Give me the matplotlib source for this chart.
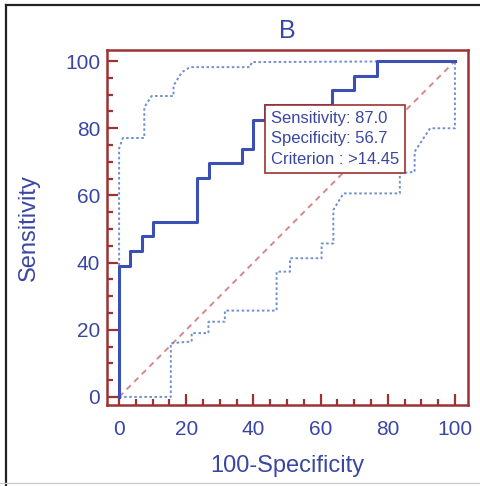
import matplotlib
matplotlib.use("Agg")
import matplotlib.pyplot as plt
from matplotlib.lines import Line2D
from matplotlib.ticker import MultipleLocator

plt.rcParams['font.family'] = ['Liberation Sans', 'DejaVu Sans']

# ROC curve (100-Specificity, Sensitivity), step corners
roc_fpr = [0, 0, 3.33, 6.67, 10, 23.3, 26.7, 36.7, 40, 43.3, 63.3, 70, 76.7, 100]
roc_tpr = [0, 39.1, 43.5, 47.8, 52.2, 65.2, 69.6, 73.9, 82.6, 87.0, 91.3, 95.7, 100, 100]

# confidence bounds (dotted)
upper_x = [0, 0, 1.1, 7.5, 7.5, 9.7, 16.2, 16.2, 18.7, 21.1, 39, 39.5, 100]
upper_y = [0, 74, 77.1, 77.1, 86.3, 89.6, 89.6, 92.7, 96.7, 98.2, 98.2, 99.7, 100]
lower_x = [0, 15.4, 15.4, 21.6, 21.6, 26.6, 26.6, 31.5, 31.5, 46.9, 46.9, 50.9, 50.9,
           60.3, 60.3, 63.8, 63.8, 66.8, 83.6, 83.6, 88, 88, 92.6, 100, 100]
lower_y = [0, 0, 16, 16.5, 19, 19, 22.4, 22.4, 25.7, 25.7, 37.3, 37.3, 41.3,
           41.3, 45.7, 45.7, 55.7, 60.6, 60.6, 66.6, 67, 73, 80, 80, 100]

# criterion point
sens_cut = 87.0
spec_cut = 56.7
criterion = ">14.45"

blue = '#3a46a4'
red = '#9c3232'

fig = plt.figure(figsize=(4.81, 4.86), dpi=100)
ax = fig.add_axes([0.2225, 0.1667, 0.7498, 0.7304])

ax.plot([0, 100], [0, 100], color='#d48a8a', lw=1.4, linestyle=(0, (3, 2.5)))
ax.plot(upper_x, upper_y, color='#6f8fd0', lw=1.4, linestyle=(0, (1.3, 1.3)))
ax.plot(lower_x, lower_y, color='#6f8fd0', lw=1.4, linestyle=(0, (1.3, 1.3)))
ax.plot(roc_fpr, roc_tpr, color='#3b4fb4', lw=2.2, drawstyle='steps-post')

ax.annotate("Sensitivity: %.1f\nSpecificity: %.1f\nCriterion : %s" % (sens_cut, spec_cut, criterion),
            xy=(100 - spec_cut, sens_cut), xytext=(4.5, -4.5), textcoords='offset points',
            ha='left', va='top', fontsize=12, color=blue, linespacing=1.45,
            bbox=dict(boxstyle='square,pad=0.35', fc='white', ec=red, lw=1.2), zorder=5)

ax.set_xlim(-3.6, 103.8)
ax.set_ylim(-2.4, 103.3)
ax.xaxis.set_major_locator(MultipleLocator(20))
ax.xaxis.set_minor_locator(MultipleLocator(5))
ax.yaxis.set_major_locator(MultipleLocator(20))
ax.yaxis.set_minor_locator(MultipleLocator(5))
ax.tick_params(which='both', direction='in', color=red, width=1.6, top=False, right=False)
ax.tick_params(which='major', length=8, labelsize=15, labelcolor=blue)
ax.tick_params(axis='x', which='major', pad=11)
ax.tick_params(axis='y', which='major', pad=5)
ax.tick_params(which='minor', length=4)
for s in ax.spines.values():
    s.set_color(red)
    s.set_linewidth(1.8)

ax.set_xlabel("100-Specificity", fontsize=17, color=blue)
ax.set_ylabel("Sensitivity", fontsize=17, color=blue)
ax.xaxis.set_label_coords(0.5, -0.14)
ax.yaxis.set_label_coords(-0.185, 0.5)
ax.set_title("B", fontsize=18, color=blue, pad=9)

# outer frame
fig.add_artist(Line2D([6 / 481, 6 / 481], [0, 1 - 5 / 486], color='#222222', lw=1.6))
fig.add_artist(Line2D([6 / 481, 1], [1 - 5 / 486, 1 - 5 / 486], color='#222222', lw=1.6))
fig.add_artist(Line2D([0, 1], [3 / 486, 3 / 486], color='#cccccc', lw=1))

fig.savefig("out.png", dpi=100)
